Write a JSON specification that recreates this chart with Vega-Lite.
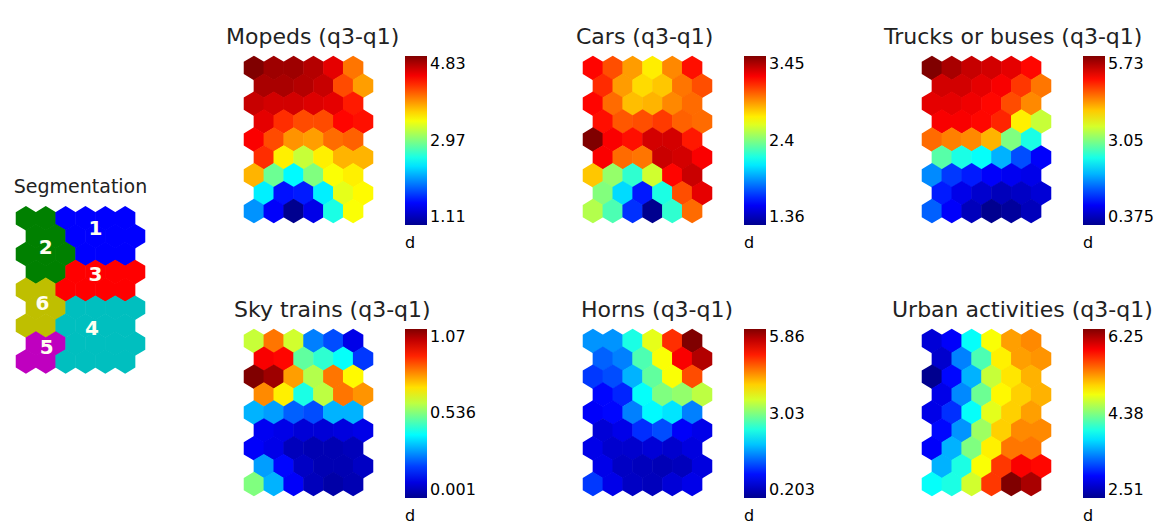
{
"$schema": "https://vega.github.io/schema/vega-lite/v6.json",
"padding": {"left": 13, "top": 25, "right": 0, "bottom": 0},
"background": "white",
"config": {
  "view": {"stroke": null},
  "font": "DejaVu Sans",
  "title": {"font": "DejaVu Sans", "fontWeight": "normal", "color": "#222222", "frame": "group"},
  "legend": {"labelFont": "DejaVu Sans", "titleFont": "DejaVu Sans"}
},
"datasets": {
  "som": [
    {"row":1,"x":1,"seg":2,"mopeds":4.83,"cars":3.18,"trucks":5.73,"sky":0.61,"horns":1.73,"urban":2.81},
    {"row":1,"x":2,"seg":2,"mopeds":4.72,"cars":3.03,"trucks":5.52,"sky":0.813,"horns":1.73,"urban":2.96},
    {"row":1,"x":3,"seg":1,"mopeds":4.72,"cars":2.87,"trucks":5.36,"sky":0.621,"horns":2.47,"urban":3.93},
    {"row":1,"x":4,"seg":1,"mopeds":4.64,"cars":2.7,"trucks":5.3,"sky":0.268,"horns":3.6,"urban":4.83},
    {"row":1,"x":5,"seg":1,"mopeds":4.46,"cars":2.91,"trucks":5.2,"sky":0.215,"horns":4.9,"urban":5.2},
    {"row":1,"x":6,"seg":1,"mopeds":3.94,"cars":3.16,"trucks":5.03,"sky":0.108,"horns":5.86,"urban":5.28},
    {"row":2,"x":1.5,"seg":2,"mopeds":4.68,"cars":3.1,"trucks":5.3,"sky":0.942,"horns":1.45,"urban":2.77},
    {"row":2,"x":2.5,"seg":2,"mopeds":4.68,"cars":2.87,"trucks":5.3,"sky":0.931,"horns":1.62,"urban":3.45},
    {"row":2,"x":3.5,"seg":1,"mopeds":4.64,"cars":2.74,"trucks":5.2,"sky":0.503,"horns":2.75,"urban":4.19},
    {"row":2,"x":4.5,"seg":1,"mopeds":4.57,"cars":2.78,"trucks":5.09,"sky":0.45,"horns":3.71,"urban":4.9},
    {"row":2,"x":5.5,"seg":1,"mopeds":4.09,"cars":2.95,"trucks":4.77,"sky":0.407,"horns":5.18,"urban":5.2},
    {"row":2,"x":6.5,"seg":1,"mopeds":3.79,"cars":3.03,"trucks":4.44,"sky":0.193,"horns":5.58,"urban":5.24},
    {"row":3,"x":1,"seg":2,"mopeds":4.57,"cars":3.18,"trucks":5.2,"sky":1.07,"horns":1.22,"urban":2.51},
    {"row":3,"x":2,"seg":2,"mopeds":4.53,"cars":2.97,"trucks":5.2,"sky":1.038,"horns":1.33,"urban":3.0},
    {"row":3,"x":3,"seg":2,"mopeds":4.53,"cars":2.8,"trucks":5.14,"sky":0.771,"horns":1.9,"urban":3.63},
    {"row":3,"x":4,"seg":1,"mopeds":4.49,"cars":2.82,"trucks":5.03,"sky":0.589,"horns":2.86,"urban":4.64},
    {"row":3,"x":5,"seg":1,"mopeds":4.46,"cars":2.91,"trucks":4.66,"sky":0.813,"horns":3.71,"urban":4.94},
    {"row":3,"x":6,"seg":1,"mopeds":4.27,"cars":2.97,"trucks":4.34,"sky":0.674,"horns":4.73,"urban":5.13},
    {"row":4,"x":1.5,"seg":2,"mopeds":4.46,"cars":3.16,"trucks":5.09,"sky":0.792,"horns":0.94,"urban":2.88},
    {"row":4,"x":2.5,"seg":2,"mopeds":4.2,"cars":3.01,"trucks":5.09,"sky":0.685,"horns":1.11,"urban":3.48},
    {"row":4,"x":3.5,"seg":3,"mopeds":4.09,"cars":3.03,"trucks":5.03,"sky":0.429,"horns":2.35,"urban":4.31},
    {"row":4,"x":4.5,"seg":3,"mopeds":4.09,"cars":3.07,"trucks":4.87,"sky":0.6,"horns":3.03,"urban":4.87},
    {"row":4,"x":5.5,"seg":3,"mopeds":4.35,"cars":2.99,"trucks":3.8,"sky":0.813,"horns":3.14,"urban":5.02},
    {"row":4,"x":6.5,"seg":3,"mopeds":4.31,"cars":2.97,"trucks":3.43,"sky":0.781,"horns":3.37,"urban":5.13},
    {"row":5,"x":1,"seg":6,"mopeds":4.38,"cars":3.45,"trucks":4.5,"sky":0.322,"horns":0.88,"urban":2.88},
    {"row":5,"x":2,"seg":6,"mopeds":4.09,"cars":3.2,"trucks":4.39,"sky":0.3,"horns":0.94,"urban":3.15},
    {"row":5,"x":3,"seg":3,"mopeds":3.83,"cars":3.16,"trucks":4.34,"sky":0.236,"horns":1.62,"urban":3.93},
    {"row":5,"x":4,"seg":3,"mopeds":3.79,"cars":3.28,"trucks":4.12,"sky":0.215,"horns":2.3,"urban":4.75},
    {"row":5,"x":5,"seg":3,"mopeds":3.97,"cars":3.28,"trucks":3.05,"sky":0.322,"horns":2.18,"urban":5.02},
    {"row":5,"x":6,"seg":3,"mopeds":4.01,"cars":3.14,"trucks":2.52,"sky":0.322,"horns":1.62,"urban":5.2},
    {"row":6,"x":1.5,"seg":6,"mopeds":4.2,"cars":3.2,"trucks":2.84,"sky":0.119,"horns":0.66,"urban":3.0},
    {"row":6,"x":2.5,"seg":6,"mopeds":3.49,"cars":2.97,"trucks":2.52,"sky":0.108,"horns":0.77,"urban":3.52},
    {"row":6,"x":3.5,"seg":4,"mopeds":3.23,"cars":2.95,"trucks":2.41,"sky":0.087,"horns":1.16,"urban":4.49},
    {"row":6,"x":4.5,"seg":4,"mopeds":3.49,"cars":3.3,"trucks":1.98,"sky":0.087,"horns":1.33,"urban":5.02},
    {"row":6,"x":5.5,"seg":4,"mopeds":3.71,"cars":3.28,"trucks":1.45,"sky":0.097,"horns":0.88,"urban":5.28},
    {"row":6,"x":6.5,"seg":4,"mopeds":3.71,"cars":3.2,"trucks":1.02,"sky":0.108,"horns":0.77,"urban":5.28},
    {"row":7,"x":1,"seg":6,"mopeds":3.71,"cars":2.78,"trucks":1.77,"sky":0.129,"horns":0.77,"urban":2.96},
    {"row":7,"x":2,"seg":6,"mopeds":2.9,"cars":2.45,"trucks":1.34,"sky":0.108,"horns":0.6,"urban":3.63},
    {"row":7,"x":3,"seg":4,"mopeds":2.49,"cars":2.24,"trucks":1.18,"sky":0.054,"horns":0.6,"urban":4.38},
    {"row":7,"x":4,"seg":4,"mopeds":2.97,"cars":2.57,"trucks":1.02,"sky":0.044,"horns":0.66,"urban":4.9},
    {"row":7,"x":5,"seg":4,"mopeds":3.42,"cars":3.18,"trucks":0.96,"sky":0.044,"horns":0.6,"urban":5.35},
    {"row":7,"x":6,"seg":4,"mopeds":3.49,"cars":3.3,"trucks":0.91,"sky":0.054,"horns":0.71,"urban":5.35},
    {"row":8,"x":1.5,"seg":5,"mopeds":2.45,"cars":2.41,"trucks":1.18,"sky":0.3,"horns":0.77,"urban":3.63},
    {"row":8,"x":2.5,"seg":5,"mopeds":1.63,"cars":2.07,"trucks":0.91,"sky":0.14,"horns":0.54,"urban":4.01},
    {"row":8,"x":3.5,"seg":4,"mopeds":1.67,"cars":1.67,"trucks":0.75,"sky":0.065,"horns":0.49,"urban":4.83},
    {"row":8,"x":4.5,"seg":4,"mopeds":2.45,"cars":2.2,"trucks":0.64,"sky":0.044,"horns":0.45,"urban":5.58},
    {"row":8,"x":5.5,"seg":4,"mopeds":3.34,"cars":3.03,"trucks":0.7,"sky":0.044,"horns":0.49,"urban":5.8},
    {"row":8,"x":6.5,"seg":4,"mopeds":3.45,"cars":3.24,"trucks":0.8,"sky":0.065,"horns":0.71,"urban":5.76},
    {"row":9,"x":1,"seg":5,"mopeds":2.11,"cars":2.51,"trucks":1.55,"sky":0.536,"horns":1.22,"urban":3.93},
    {"row":9,"x":2,"seg":5,"mopeds":1.56,"cars":2.3,"trucks":1.02,"sky":0.322,"horns":0.77,"urban":4.01},
    {"row":9,"x":3,"seg":4,"mopeds":1.11,"cars":1.72,"trucks":0.64,"sky":0.129,"horns":0.54,"urban":4.68},
    {"row":9,"x":4,"seg":4,"mopeds":1.48,"cars":1.36,"trucks":0.375,"sky":0.054,"horns":0.49,"urban":5.58},
    {"row":9,"x":5,"seg":4,"mopeds":2.6,"cars":2.24,"trucks":0.45,"sky":0.03,"horns":0.66,"urban":6.25},
    {"row":9,"x":6,"seg":4,"mopeds":3.42,"cars":2.97,"trucks":0.64,"sky":0.044,"horns":0.77,"urban":6.1}
  ],
  "seglabels": [
    {"x":4.5,"row":1.6,"label":"1"},
    {"x":2.0,"row":2.66,"label":"2"},
    {"x":4.5,"row":4.15,"label":"3"},
    {"x":4.33,"row":7.2,"label":"4"},
    {"x":2.05,"row":8.25,"label":"5"},
    {"x":1.83,"row":5.8,"label":"6"}
  ]
},
"hconcat": [
  {
    "width": 129, "height": 167,
    "title": {"text": "Segmentation", "fontSize": 19, "anchor": "middle", "frame": "group", "offset": -10, "baseline": "bottom"},
    "layer": [
      {
        "data": {"name": "som"},
        "mark": {"type": "point", "shape": "M0,-1L0.832,-0.5L0.832,0.5L0,1L-0.832,0.5L-0.832,-0.5Z", "size": 600, "filled": true, "opacity": 1, "strokeWidth": 0},
        "encoding": {
          "x": {"field": "x", "type": "quantitative", "scale": {"domain": [0.5, 7]}, "axis": null},
          "y": {"field": "row", "type": "quantitative", "scale": {"domain": [0.333, 9.667], "reverse": true}, "axis": null},
          "color": {"field": "seg", "type": "nominal", "scale": {"domain": [1,2,3,4,5,6], "range": ["#0000ff","#008000","#ff0000","#00bfbf","#bf00bf","#bfbf00"]}, "legend": null}
        }
      },
      {
        "data": {"name": "seglabels"},
        "mark": {"type": "text", "font": "DejaVu Sans", "fontWeight": "bold", "fontSize": 20, "color": "#fffff0", "align": "center", "baseline": "middle"},
        "encoding": {
          "x": {"field": "x", "type": "quantitative", "scale": {"domain": [0.5, 7]}, "axis": null},
          "y": {"field": "row", "type": "quantitative", "scale": {"domain": [0.333, 9.667], "reverse": true}, "axis": null},
          "text": {"field": "label"}
        }
      }
    ]
  },
  {
    "data": {"name": "som"},
    "columns": 3,
    "spacing": {"row": 106, "column": 210},
    "bounds": "flush",
    "resolve": {"scale": {"color": "independent"}},
    "concat": [
      {
        "width": 129, "height": 167,
        "title": {"text": "Mopeds (q3-q1)", "anchor": "start", "frame": "group", "dx": -18, "offset": -15, "baseline": "bottom", "fontSize": 22},
        "mark": {"type": "point", "shape": "M0,-1L0.832,-0.5L0.832,0.5L0,1L-0.832,0.5L-0.832,-0.5Z", "size": 600, "filled": true, "opacity": 1, "strokeWidth": 0},
        "encoding": {
          "x": {"field": "x", "type": "quantitative", "scale": {"domain": [0.5, 7]}, "axis": null},
          "y": {"field": "row", "type": "quantitative", "scale": {"domain": [0.333, 9.667], "reverse": true}, "axis": null},
          "color": {"field": "mopeds", "type": "quantitative",
            "scale": {"domain": [1.11, 1.575, 2.505, 3.435, 4.365, 4.83], "range": ["#00008f","#0000ff","#00ffff","#ffff00","#ff0000","#800000"], "interpolate": "rgb"},
            "legend": {"title": "d", "titleOrient": "bottom", "titleAnchor": "start", "titleFontSize": 16, "titleFontWeight": "normal", "titleColor": "#000000", "titlePadding": 10,
              "values": [1.11, 2.97, 4.83], "labelExpr": "'' + datum.value", "labelFontSize": 16, "labelColor": "#000000", "labelOffset": 3,
              "gradientLength": 169, "gradientThickness": 22, "gradientStrokeWidth": 0, "offset": 32}}
        }
      },
      {
        "width": 129, "height": 167,
        "title": {"text": "Cars (q3-q1)", "anchor": "start", "frame": "group", "dx": -7, "offset": -15, "baseline": "bottom", "fontSize": 22},
        "mark": {"type": "point", "shape": "M0,-1L0.832,-0.5L0.832,0.5L0,1L-0.832,0.5L-0.832,-0.5Z", "size": 600, "filled": true, "opacity": 1, "strokeWidth": 0},
        "encoding": {
          "x": {"field": "x", "type": "quantitative", "scale": {"domain": [0.5, 7]}, "axis": null},
          "y": {"field": "row", "type": "quantitative", "scale": {"domain": [0.333, 9.667], "reverse": true}, "axis": null},
          "color": {"field": "cars", "type": "quantitative",
            "scale": {"domain": [1.36, 1.621, 2.144, 2.666, 3.189, 3.45], "range": ["#00008f","#0000ff","#00ffff","#ffff00","#ff0000","#800000"], "interpolate": "rgb"},
            "legend": {"title": "d", "titleOrient": "bottom", "titleAnchor": "start", "titleFontSize": 16, "titleFontWeight": "normal", "titleColor": "#000000", "titlePadding": 10,
              "values": [1.36, 2.4, 3.45], "labelExpr": "'' + datum.value", "labelFontSize": 16, "labelColor": "#000000", "labelOffset": 3,
              "gradientLength": 169, "gradientThickness": 22, "gradientStrokeWidth": 0, "offset": 32}}
        }
      },
      {
        "width": 129, "height": 167,
        "title": {"text": "Trucks or buses (q3-q1)", "anchor": "start", "frame": "group", "dx": -38, "offset": -15, "baseline": "bottom", "fontSize": 22},
        "mark": {"type": "point", "shape": "M0,-1L0.832,-0.5L0.832,0.5L0,1L-0.832,0.5L-0.832,-0.5Z", "size": 600, "filled": true, "opacity": 1, "strokeWidth": 0},
        "encoding": {
          "x": {"field": "x", "type": "quantitative", "scale": {"domain": [0.5, 7]}, "axis": null},
          "y": {"field": "row", "type": "quantitative", "scale": {"domain": [0.333, 9.667], "reverse": true}, "axis": null},
          "color": {"field": "trucks", "type": "quantitative",
            "scale": {"domain": [0.375, 1.044, 2.383, 3.722, 5.061, 5.73], "range": ["#00008f","#0000ff","#00ffff","#ffff00","#ff0000","#800000"], "interpolate": "rgb"},
            "legend": {"title": "d", "titleOrient": "bottom", "titleAnchor": "start", "titleFontSize": 16, "titleFontWeight": "normal", "titleColor": "#000000", "titlePadding": 10,
              "values": [0.375, 3.05, 5.73], "labelExpr": "'' + datum.value", "labelFontSize": 16, "labelColor": "#000000", "labelOffset": 3,
              "gradientLength": 169, "gradientThickness": 22, "gradientStrokeWidth": 0, "offset": 32}}
        }
      },
      {
        "width": 129, "height": 167,
        "title": {"text": "Sky trains (q3-q1)", "anchor": "start", "frame": "group", "dx": -10, "offset": -15, "baseline": "bottom", "fontSize": 22},
        "mark": {"type": "point", "shape": "M0,-1L0.832,-0.5L0.832,0.5L0,1L-0.832,0.5L-0.832,-0.5Z", "size": 600, "filled": true, "opacity": 1, "strokeWidth": 0},
        "encoding": {
          "x": {"field": "x", "type": "quantitative", "scale": {"domain": [0.5, 7]}, "axis": null},
          "y": {"field": "row", "type": "quantitative", "scale": {"domain": [0.333, 9.667], "reverse": true}, "axis": null},
          "color": {"field": "sky", "type": "quantitative",
            "scale": {"domain": [0.001, 0.135, 0.402, 0.669, 0.936, 1.07], "range": ["#00008f","#0000ff","#00ffff","#ffff00","#ff0000","#800000"], "interpolate": "rgb"},
            "legend": {"title": "d", "titleOrient": "bottom", "titleAnchor": "start", "titleFontSize": 16, "titleFontWeight": "normal", "titleColor": "#000000", "titlePadding": 10,
              "values": [0.001, 0.536, 1.07], "labelExpr": "'' + datum.value", "labelFontSize": 16, "labelColor": "#000000", "labelOffset": 3,
              "gradientLength": 169, "gradientThickness": 22, "gradientStrokeWidth": 0, "offset": 32}}
        }
      },
      {
        "width": 129, "height": 167,
        "title": {"text": "Horns (q3-q1)", "anchor": "start", "frame": "group", "dx": -2, "offset": -15, "baseline": "bottom", "fontSize": 22},
        "mark": {"type": "point", "shape": "M0,-1L0.832,-0.5L0.832,0.5L0,1L-0.832,0.5L-0.832,-0.5Z", "size": 600, "filled": true, "opacity": 1, "strokeWidth": 0},
        "encoding": {
          "x": {"field": "x", "type": "quantitative", "scale": {"domain": [0.5, 7]}, "axis": null},
          "y": {"field": "row", "type": "quantitative", "scale": {"domain": [0.333, 9.667], "reverse": true}, "axis": null},
          "color": {"field": "horns", "type": "quantitative",
            "scale": {"domain": [0.203, 0.910, 2.324, 3.739, 5.153, 5.86], "range": ["#00008f","#0000ff","#00ffff","#ffff00","#ff0000","#800000"], "interpolate": "rgb"},
            "legend": {"title": "d", "titleOrient": "bottom", "titleAnchor": "start", "titleFontSize": 16, "titleFontWeight": "normal", "titleColor": "#000000", "titlePadding": 10,
              "values": [0.203, 3.03, 5.86], "labelExpr": "'' + datum.value", "labelFontSize": 16, "labelColor": "#000000", "labelOffset": 3,
              "gradientLength": 169, "gradientThickness": 22, "gradientStrokeWidth": 0, "offset": 32}}
        }
      },
      {
        "width": 129, "height": 167,
        "title": {"text": "Urban activities (q3-q1)", "anchor": "start", "frame": "group", "dx": -30, "offset": -15, "baseline": "bottom", "fontSize": 22},
        "mark": {"type": "point", "shape": "M0,-1L0.832,-0.5L0.832,0.5L0,1L-0.832,0.5L-0.832,-0.5Z", "size": 600, "filled": true, "opacity": 1, "strokeWidth": 0},
        "encoding": {
          "x": {"field": "x", "type": "quantitative", "scale": {"domain": [0.5, 7]}, "axis": null},
          "y": {"field": "row", "type": "quantitative", "scale": {"domain": [0.333, 9.667], "reverse": true}, "axis": null},
          "color": {"field": "urban", "type": "quantitative",
            "scale": {"domain": [2.51, 2.9775, 3.9125, 4.8475, 5.7825, 6.25], "range": ["#00008f","#0000ff","#00ffff","#ffff00","#ff0000","#800000"], "interpolate": "rgb"},
            "legend": {"title": "d", "titleOrient": "bottom", "titleAnchor": "start", "titleFontSize": 16, "titleFontWeight": "normal", "titleColor": "#000000", "titlePadding": 10,
              "values": [2.51, 4.38, 6.25], "labelExpr": "'' + datum.value", "labelFontSize": 16, "labelColor": "#000000", "labelOffset": 3,
              "gradientLength": 169, "gradientThickness": 22, "gradientStrokeWidth": 0, "offset": 32}}
        }
      }
    ]
  }
],
"spacing": 78,
"center": true,
"resolve": {"scale": {"color": "independent"}}
}
